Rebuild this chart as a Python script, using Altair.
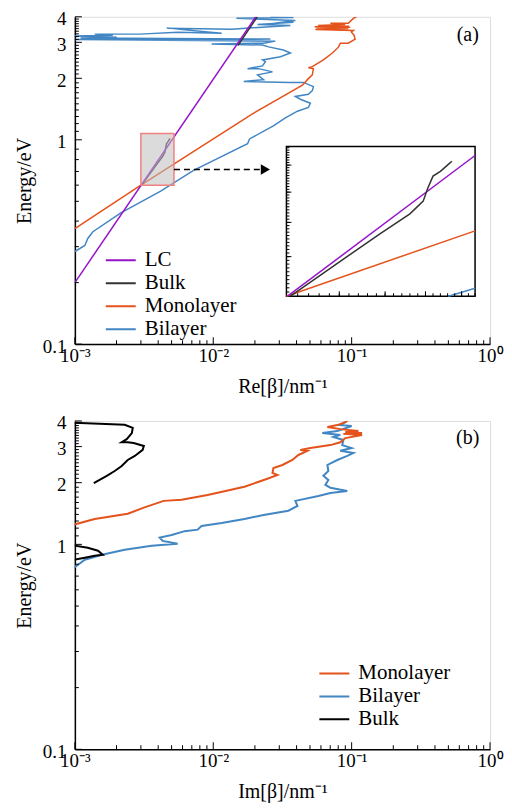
import altair as alt
import pandas as pd

FONT = "Liberation Serif"
W, HA, HB = 416, 328, 329

# ---------------- panel (a): Re[beta] ----------------
lc_re = [0.001, 0.0203]
lc_e = [0.2, 4.0]

bulk_re = [0.003035, 0.00348, 0.00394, 0.0043, 0.00447, 0.00453, 0.0046, 0.0047, 0.00481, 0.00486]
bulk_e = [0.6, 0.682, 0.765, 0.827, 0.869, 0.914, 0.958, 0.976, 1.003, 1.015]
bulk_hi_re = [0.0151, 0.0208]
bulk_hi_e = [2.9, 4.0]

mono_re = [0.001, 0.003, 0.0192, 0.0441, 0.0479, 0.0520, 0.0529, 0.0487, 0.0520, 0.0625,
           0.0726, 0.0802, 0.0829, 0.0946, 0.106, 0.104, 0.0995, 0.103, 0.0547, 0.0946,
           0.0555, 0.0978, 0.0540, 0.0960, 0.0571, 0.0899, 0.0702, 0.0946, 0.103, 0.108]
mono_e = [0.367, 0.60, 1.34, 1.85, 1.97, 2.08, 2.23, 2.25, 2.28, 2.46,
          2.66, 2.84, 2.97, 2.97, 3.11, 3.25, 3.37, 3.43, 3.47, 3.51,
          3.53, 3.55, 3.58, 3.60, 3.63, 3.67, 3.72, 3.72, 3.93, 4.0]

bil_re = [0.001, 0.00118, 0.00124, 0.00135, 0.00215, 0.00417, 0.00721, 0.0177, 0.0183, 0.0272,
          0.0332, 0.0406, 0.0487, 0.0503, 0.0426, 0.0392, 0.0487, 0.0520, 0.0529, 0.0448,
          0.0361, 0.0166, 0.0231, 0.0209, 0.0268, 0.0212, 0.0177, 0.0227, 0.0238, 0.0227,
          0.0306, 0.0361, 0.0321, 0.0251, 0.0227, 0.00973, 0.0231, 0.0281, 0.00097, 0.0259,
          0.0011, 0.00201, 0.00097, 0.00188, 0.00139, 0.00294, 0.00553, 0.0115, 0.00461, 0.0136,
          0.0361, 0.0209, 0.0380, 0.0277, 0.0392, 0.0147, 0.0380, 0.0259]
bil_e = [0.284, 0.304, 0.329, 0.355, 0.439, 0.561, 0.708, 0.957, 1.01, 1.17,
         1.28, 1.38, 1.44, 1.51, 1.58, 1.63, 1.67, 1.74, 1.82, 1.91,
         1.91, 1.93, 1.97, 2.08, 2.15, 2.23, 2.23, 2.30, 2.41, 2.46,
         2.55, 2.66, 2.75, 2.85, 2.91, 2.94, 2.97, 3.04, 3.10, 3.11,
         3.15, 3.18, 3.22, 3.25, 3.29, 3.29, 3.36, 3.32, 3.52, 3.48,
         3.63, 3.67, 3.76, 3.72, 3.84, 3.93, 3.97, 4.0]

# inset (zoom of the grey box)
ins_lc_re = [0.00301, 0.0052]
ins_lc_e = [0.6, 1.038]
ins_mono_re = [0.003, 0.0052]
ins_mono_e = [0.6, 0.774]
ins_bil_re = [0.00481, 0.0052]
ins_bil_e = [0.6, 0.619]
box_re = [0.003, 0.0052]
box_e = [0.6, 1.075]
arrow_re = [0.0052, 0.0219]
arrow_head_re = [0.0238]
arrow_e = [0.716]

# ---------------- panel (b): Im[beta] ----------------
bulk_im_hi = [0.00095, 0.00229, 0.00262, 0.00258, 0.00237, 0.00218, 0.00241, 0.00266, 0.00315, 0.00309,
              0.00271, 0.00241, 0.00218, 0.00194, 0.0017, 0.00137]
bulk_e_hi = [3.92, 3.83, 3.70, 3.49, 3.26, 3.15, 3.15, 3.12, 3.02, 2.89,
             2.70, 2.58, 2.41, 2.28, 2.16, 1.99]
bulk_im_lo = [0.00095, 0.00124, 0.00147, 0.00159, 0.00139, 0.00118, 0.00095]
bulk_e_lo = [0.99, 0.963, 0.931, 0.890, 0.880, 0.861, 0.838]

mono_im = [0.00095, 0.00139, 0.00241, 0.00315, 0.00438, 0.00591, 0.0091, 0.0168, 0.0246, 0.0291,
           0.0268, 0.0272, 0.0316, 0.0373, 0.0412, 0.0479, 0.0426, 0.0503, 0.0702, 0.0828,
           0.0900, 0.119, 0.0871, 0.119, 0.0900, 0.112, 0.0828, 0.0668, 0.0788, 0.0900, 0.0930]
mono_e_b = [1.24, 1.33, 1.41, 1.51, 1.63, 1.65, 1.74, 1.91, 2.09, 2.18,
            2.23, 2.36, 2.44, 2.58, 2.73, 2.86, 2.89, 2.95, 3.05, 3.15,
            3.30, 3.42, 3.46, 3.49, 3.53, 3.57, 3.65, 3.74, 3.82, 3.95, 4.0]

bil_im = [0.00095, 0.00118, 0.00157, 0.00229, 0.00359, 0.00553, 0.00431, 0.0041, 0.00501, 0.00621,
          0.00771, 0.00823, 0.0115, 0.0168, 0.0231, 0.0349, 0.0406, 0.0392, 0.0575, 0.0702,
          0.093, 0.0702, 0.0646, 0.0679, 0.0625, 0.0679, 0.0668, 0.0788, 0.093, 0.103,
          0.0828, 0.100, 0.0856, 0.0871, 0.0738, 0.0828, 0.0614, 0.0788, 0.100, 0.0828, 0.093]
bil_e_b = [0.755, 0.841, 0.89, 0.941, 0.984, 1.007, 1.04, 1.08, 1.11, 1.16,
           1.18, 1.23, 1.27, 1.33, 1.39, 1.46, 1.54, 1.63, 1.72, 1.78,
           1.82, 1.89, 1.95, 2.06, 2.16, 2.28, 2.44, 2.58, 2.70, 2.79,
           2.86, 2.95, 3.05, 3.23, 3.34, 3.42, 3.49, 3.57, 3.78, 3.82, 4.0]

# ---------------- ticks / styling ----------------
x_major = [0.001, 0.01, 0.1, 1]
x_minor = [k * 10 ** e for e in (-3, -2, -1) for k in range(2, 10)]
y_major = [0.1, 1, 2, 3, 4]
y_minor = [round(0.1 * k, 1) for k in range(2, 40) if k not in (10, 20, 30)]
ins_x_major = [0.0035, 0.004, 0.0045, 0.005]
ins_x_minor = [round(0.0030 + 0.0001 * k, 4) for k in range(1, 23)]
ins_y_major = [0.7, 0.8, 0.9, 1.0]
ins_y_minor = [round(0.60 + 0.01 * k, 2) for k in range(1, 48)]

C_LC, C_BULK_A, C_MONO, C_BIL, C_BULK_B = "#9614c8", "#333333", "#e4531b", "#4286c4", "#000000"

XDOM = [0.001, 1]
YDOM = [0.1, 4]
INS_XDOM = [0.003, 0.0052]
INS_YDOM = [0.6, 1.075]
INS_XR = [212, 401]
INS_YR = [280, 130]


def frame(xs, es, series, seg="0"):
    return pd.DataFrame({"x": xs, "e": es, "series": series, "seg": seg, "i": list(range(len(xs)))})


def lsc(dom, rng=None):
    if rng is None:
        return alt.Scale(type="log", domain=dom, nice=False)
    return alt.Scale(type="log", domain=dom, range=rng, nice=False)


def main_axes(xtitle):
    ax = alt.Axis(values=x_major, ticks=False, grid=False, domain=True, domainColor="black",
                  domainWidth=1.5, title=xtitle, labelFont=FONT, labelFontSize=19, labelColor="black",
                  titleFont=FONT, titleFontSize=20, titleFontWeight="normal", titleColor="black",
                  labelPadding=2, titlePadding=11, labelOverlap=False, labelFlush=False,
                  labelExpr="datum.value < 0.005 ? '10⁻³' : datum.value < 0.05 ? '10⁻²' : datum.value < 0.5 ? '10⁻¹' : '10⁰'")
    ay = alt.Axis(values=y_major, ticks=False, grid=False, domain=True, domainColor="black",
                  domainWidth=1.5, title="Energy/eV", format=".1~f", labelFont=FONT, labelFontSize=19,
                  labelColor="black", titleFont=FONT, titleFontSize=20, titleFontWeight="normal",
                  titleColor="black", labelPadding=9, titlePadding=8, labelOverlap=False, labelOffset=2)
    return ax, ay


def tick_marks(xvals, yvals, xedge, yedge, size, xsc, ysc, ax, ay):
    """Inward ticks drawn as tick marks along the left and bottom edges."""
    ydf = pd.DataFrame({"v": yvals, "edge": [xedge] * len(yvals)})
    xdf = pd.DataFrame({"v": xvals, "edge": [yedge] * len(xvals)})
    left = alt.Chart(ydf).mark_tick(orient="horizontal", size=size, thickness=1, color="black",
                                    xOffset=size / 2, opacity=1).encode(
        x=alt.X("edge:Q", scale=xsc, axis=ax), y=alt.Y("v:Q", scale=ysc, axis=ay))
    bottom = alt.Chart(xdf).mark_tick(orient="vertical", size=size, thickness=1, color="black",
                                      yOffset=-size / 2, opacity=1).encode(
        x=alt.X("v:Q", scale=xsc, axis=ax), y=alt.Y("edge:Q", scale=ysc, axis=ay))
    return [left, bottom]


def lines(df, xsc, ysc, ax, ay, cdom, crng, legend, width=1.5):
    return alt.Chart(df).mark_line(strokeWidth=width, clip=True).encode(
        x=alt.X("x:Q", scale=xsc, axis=ax),
        y=alt.Y("e:Q", scale=ysc, axis=ay),
        color=alt.Color("series:N", scale=alt.Scale(domain=cdom, range=crng), legend=legend),
        detail="seg:N",
        order="i:Q",
    )


def legend(x, y):
    return alt.Legend(title=None, orient="none", legendX=x, legendY=y, symbolType="stroke",
                      symbolSize=900, symbolStrokeWidth=2, labelFont=FONT, labelFontSize=21,
                      labelColor="black", rowPadding=2, clipHeight=20, labelOffset=8, padding=0)


# ---------------- build panel (a) ----------------
dom_a = ["LC", "Bulk", "Monolayer", "Bilayer"]
rng_a = [C_LC, C_BULK_A, C_MONO, C_BIL]
leg_a = legend(30, 234)
ax_a, ay_a = main_axes("Re[β]/nm⁻¹")
xs_a, ys_a = lsc(XDOM), lsc(YDOM)

df_lc = frame(lc_re, lc_e, "LC")
df_bulk = pd.concat([frame(bulk_re, bulk_e, "Bulk", "lo"), frame(bulk_hi_re, bulk_hi_e, "Bulk", "hi")])
df_mono = frame(mono_re, mono_e, "Monolayer")
df_bil = frame(bil_re, bil_e, "Bilayer")

box_df = pd.DataFrame({"x0": [box_re[0]], "x1": [box_re[1]], "e0": [box_e[0]], "e1": [box_e[1]]})
arrow_df = pd.DataFrame({"x0": [arrow_re[0]], "x1": [arrow_re[1]], "e": arrow_e})
head_df = pd.DataFrame({"x": arrow_head_re, "e": arrow_e})
lab_a = pd.DataFrame({"x": [0.69], "e": [3.25], "t": ["(a)"]})

main_a = alt.layer(
    lines(df_bil, xs_a, ys_a, ax_a, ay_a, dom_a, rng_a, leg_a),
    lines(df_mono, xs_a, ys_a, ax_a, ay_a, dom_a, rng_a, leg_a),
    lines(df_bulk, xs_a, ys_a, ax_a, ay_a, dom_a, rng_a, leg_a),
    lines(df_lc, xs_a, ys_a, ax_a, ay_a, dom_a, rng_a, leg_a),
    alt.Chart(box_df).mark_rect(fill="#bdbdbd", fillOpacity=0.55, stroke="#f08080", strokeWidth=1.5).encode(
        x=alt.X("x0:Q", scale=xs_a, axis=ax_a), x2="x1:Q",
        y=alt.Y("e0:Q", scale=ys_a, axis=ay_a), y2="e1:Q"),
    alt.Chart(arrow_df).mark_rule(strokeDash=[6, 4], strokeWidth=1.5, color="black").encode(
        x=alt.X("x0:Q", scale=xs_a, axis=ax_a), x2="x1:Q",
        y=alt.Y("e:Q", scale=ys_a, axis=ay_a)),
    alt.Chart(head_df).mark_point(shape="triangle-right", filled=True, size=110, color="black", opacity=1).encode(
        x=alt.X("x:Q", scale=xs_a, axis=ax_a), y=alt.Y("e:Q", scale=ys_a, axis=ay_a)),
    alt.Chart(lab_a).mark_text(font=FONT, fontSize=20, color="black").encode(
        x=alt.X("x:Q", scale=xs_a, axis=ax_a), y=alt.Y("e:Q", scale=ys_a, axis=ay_a), text="t:N"),
    *tick_marks(x_major, y_major, XDOM[0], YDOM[0], 7, xs_a, ys_a, ax_a, ay_a),
    *tick_marks(x_minor, y_minor, XDOM[0], YDOM[0], 4, xs_a, ys_a, ax_a, ay_a),
)

ins_xs, ins_ys = lsc(INS_XDOM, INS_XR), lsc(INS_YDOM, INS_YR)
ins_frame = pd.DataFrame({"x0": [INS_XDOM[0]], "x1": [INS_XDOM[1]], "e0": [INS_YDOM[0]], "e1": [INS_YDOM[1]]})
inset_a = alt.layer(
    alt.Chart(ins_frame).mark_rect(fill="white", stroke="black", strokeWidth=1.5).encode(
        x=alt.X("x0:Q", scale=ins_xs, axis=None), x2="x1:Q",
        y=alt.Y("e0:Q", scale=ins_ys, axis=None), y2="e1:Q"),
    lines(frame(ins_bil_re, ins_bil_e, "Bilayer"), ins_xs, ins_ys, None, None, dom_a, rng_a, leg_a),
    lines(frame(ins_mono_re, ins_mono_e, "Monolayer"), ins_xs, ins_ys, None, None, dom_a, rng_a, leg_a),
    lines(frame(ins_lc_re, ins_lc_e, "LC"), ins_xs, ins_ys, None, None, dom_a, rng_a, leg_a),
    lines(frame(bulk_re, bulk_e, "Bulk"), ins_xs, ins_ys, None, None, dom_a, rng_a, leg_a),
    *tick_marks(ins_x_major, ins_y_major, INS_XDOM[0], INS_YDOM[0], 5, ins_xs, ins_ys, None, None),
    *tick_marks(ins_x_minor, ins_y_minor, INS_XDOM[0], INS_YDOM[0], 3, ins_xs, ins_ys, None, None),
)

panel_a = alt.layer(main_a, inset_a).resolve_scale(
    x="independent", y="independent").properties(width=W, height=HA)

# ---------------- build panel (b) ----------------
dom_b = ["Monolayer", "Bilayer", "Bulk"]
rng_b = [C_MONO, C_BIL, C_BULK_B]
leg_b = legend(244, 243)
ax_b, ay_b = main_axes("Im[β]/nm⁻¹")
xs_b, ys_b = lsc(XDOM), lsc(YDOM)

df_bulk_b = pd.concat([frame(bulk_im_hi, bulk_e_hi, "Bulk", "hi"), frame(bulk_im_lo, bulk_e_lo, "Bulk", "lo")])
df_mono_b = frame(mono_im, mono_e_b, "Monolayer")
df_bil_b = frame(bil_im, bil_e_b, "Bilayer")
lab_b = pd.DataFrame({"x": [0.69], "e": [3.30], "t": ["(b)"]})

panel_b = alt.layer(
    lines(df_bil_b, xs_b, ys_b, ax_b, ay_b, dom_b, rng_b, leg_b, 2),
    lines(df_mono_b, xs_b, ys_b, ax_b, ay_b, dom_b, rng_b, leg_b, 2),
    lines(df_bulk_b, xs_b, ys_b, ax_b, ay_b, dom_b, rng_b, leg_b, 2),
    alt.Chart(lab_b).mark_text(font=FONT, fontSize=20, color="black").encode(
        x=alt.X("x:Q", scale=xs_b, axis=ax_b), y=alt.Y("e:Q", scale=ys_b, axis=ay_b), text="t:N"),
    *tick_marks(x_major, y_major, XDOM[0], YDOM[0], 7, xs_b, ys_b, ax_b, ay_b),
    *tick_marks(x_minor, y_minor, XDOM[0], YDOM[0], 4, xs_b, ys_b, ax_b, ay_b),
).properties(width=W, height=HB)

chart = alt.vconcat(panel_a, panel_b, spacing=16).resolve_scale(color="independent").properties(
    padding={"left": 5, "top": 0, "right": 0, "bottom": 0}
).configure_view(stroke="black", strokeWidth=1.5).configure(font=FONT)

chart.save("out.html", embed_options={"renderer": "svg", "actions": False})
